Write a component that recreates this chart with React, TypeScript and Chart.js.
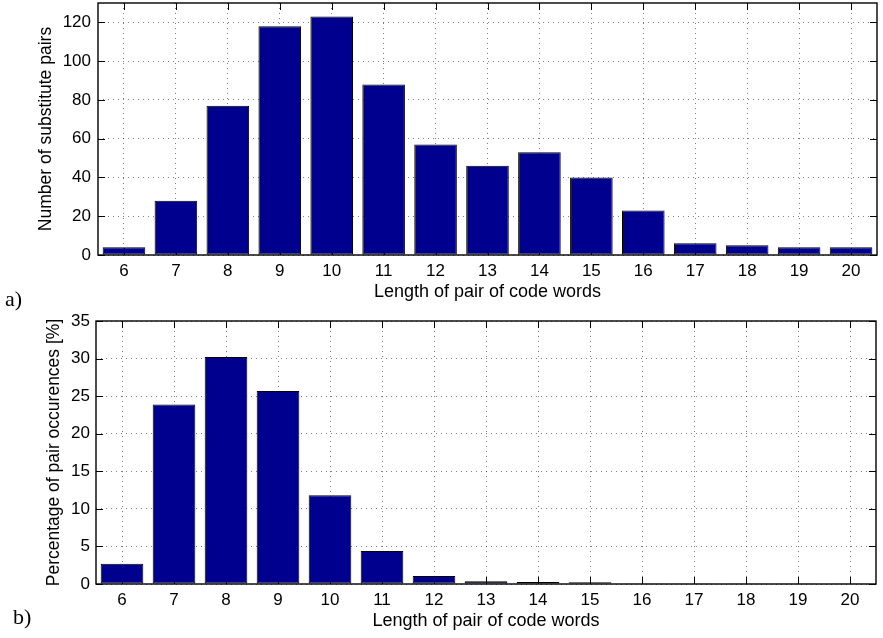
import React, { useEffect, useRef } from 'react';
import { Chart, registerables } from 'chart.js';

Chart.register(...registerables);

// ---- data ----
const codeWordLengths = ['6', '7', '8', '9', '10', '11', '12', '13', '14', '15', '16', '17', '18', '19', '20'];
const substitutePairs = [4, 28, 77, 118, 123, 88, 57, 46, 53, 40, 23, 6, 5, 4, 4];
const pairOccurrencePercent = [2.7, 23.9, 30.2, 25.7, 11.8, 4.4, 1.05, 0.36, 0.27, 0.22, 0.04, 0.03, 0.03, 0.03, 0.03];
const topYMax = 130;
const topYStep = 20;
const bottomYMax = 35;
const bottomYStep = 5;

const xTitle = 'Length of pair of code words';
const topYTitle = 'Number of substitute pairs';
const bottomYTitle = 'Percentage of pair occurences [%]';

const FONT = "'Liberation Sans', Arial, Helvetica, sans-serif";
const BAR_FILL = 'rgb(0,0,143)';
const TICK_LEN = 7;
const GRID_COLOR = 'rgba(0,0,0,0.5)';

const frameTicks = {
  id: 'frameTicks',
  beforeDatasetsDraw(chart: any) {
    const { ctx, chartArea } = chart;
    const { left, right, top, bottom } = chartArea;
    const xs = chart.scales.x;
    const ys = chart.scales.y;
    ctx.save();
    ctx.strokeStyle = '#000';
    ctx.lineWidth = 1;
    ctx.beginPath();
    xs.ticks.forEach((_t: any, i: number) => {
      const px = Math.round(xs.getPixelForTick(i)) + 0.5;
      ctx.moveTo(px, bottom);
      ctx.lineTo(px, bottom - TICK_LEN);
      ctx.moveTo(px, top);
      ctx.lineTo(px, top + TICK_LEN);
    });
    ys.ticks.forEach((t: any) => {
      const py = Math.round(ys.getPixelForValue(t.value)) + 0.5;
      ctx.moveTo(left, py);
      ctx.lineTo(left + TICK_LEN, py);
      ctx.moveTo(right, py);
      ctx.lineTo(right - TICK_LEN, py);
    });
    ctx.stroke();
    ctx.restore();
  },
  afterDatasetsDraw(chart: any) {
    const { ctx, chartArea } = chart;
    const { left, right, top, bottom } = chartArea;
    ctx.save();
    ctx.strokeStyle = '#000';
    ctx.lineWidth = 1.4;
    ctx.strokeRect(left, top, right - left, bottom - top);
    ctx.restore();
  },
};

const zeroPad = (s: any) => {
  s.paddingTop = 0;
  s.paddingBottom = 0;
  s.paddingLeft = 0;
  s.paddingRight = 0;
};

function makeConfig(
  values: number[],
  yMax: number,
  yStep: number,
  yTitle: string,
  yWidth: number,
  yTitlePad: number,
  yTickPad: number,
  xHeight: number,
  xTitlePad: number,
  padding: any
): any {
  return {
    type: 'bar',
    data: {
      labels: codeWordLengths,
      datasets: [
        {
          data: values,
          backgroundColor: BAR_FILL,
          borderColor: '#000',
          borderWidth: 1,
          borderSkipped: false,
          barPercentage: 0.82,
          categoryPercentage: 1,
        },
      ],
    },
    options: {
      responsive: false,
      animation: false,
      devicePixelRatio: 1,
      layout: { padding },
      plugins: { legend: { display: false }, tooltip: { enabled: false } },
      scales: {
        x: {
          offset: true,
          grid: { offset: false, drawTicks: false, color: GRID_COLOR, lineWidth: 1 },
          border: { display: false, dash: [1, 4] },
          ticks: { color: '#000', font: { family: FONT, size: 17 }, padding: 6, maxRotation: 0, autoSkip: false },
          title: {
            display: true,
            text: xTitle,
            color: '#000',
            font: { family: FONT, size: 18 },
            padding: { top: 0, bottom: xTitlePad },
          },
          afterFit: (s: any) => {
            s.height = xHeight;
            zeroPad(s);
          },
        },
        y: {
          min: 0,
          max: yMax,
          grid: { drawTicks: false, color: GRID_COLOR, lineWidth: 1 },
          border: { display: false, dash: [1, 4] },
          ticks: {
            stepSize: yStep,
            includeBounds: false,
            color: '#000',
            font: { family: FONT, size: 17 },
            padding: yTickPad,
          },
          title: {
            display: true,
            text: yTitle,
            color: '#000',
            font: { family: FONT, size: 17.5 },
            padding: { top: yTitlePad, bottom: 0 },
          },
          afterFit: (s: any) => {
            s.width = yWidth;
            zeroPad(s);
          },
        },
      },
    },
    plugins: [frameTicks],
  };
}

export default function App() {
  const topRef = useRef<HTMLCanvasElement>(null);
  const botRef = useRef<HTMLCanvasElement>(null);

  useEffect(() => {
    const top = new Chart(
      topRef.current as HTMLCanvasElement,
      makeConfig(substitutePairs, topYMax, topYStep, topYTitle, 98, 35.5, 7, 55, 7, { left: 0, right: 6, top: 3, bottom: 0 })
    );
    const bot = new Chart(
      botRef.current as HTMLCanvasElement,
      makeConfig(pairOccurrencePercent, bottomYMax, bottomYStep, bottomYTitle, 96, 44, 6, 54, 6, { left: 0, right: 7, top: 11, bottom: 0 })
    );
    return () => {
      top.destroy();
      bot.destroy();
    };
  }, []);

  const labelStyle: React.CSSProperties = {
    position: 'absolute',
    fontFamily: "'Liberation Serif', 'Times New Roman', serif",
    fontSize: 22,
    lineHeight: '22px',
    color: '#000',
  };

  return (
    <div style={{ position: 'absolute', left: 0, top: 0, width: 883, height: 638, background: '#fff', overflow: 'hidden' }}>
      <canvas ref={topRef} width={883} height={310} style={{ position: 'absolute', left: 0, top: 0, width: 883, height: 310 }} />
      <canvas ref={botRef} width={883} height={328} style={{ position: 'absolute', left: 0, top: 310, width: 883, height: 328 }} />
      <div style={{ ...labelStyle, left: 5, top: 288 }}>a)</div>
      <div style={{ ...labelStyle, left: 13, top: 606 }}>b)</div>
    </div>
  );
}
